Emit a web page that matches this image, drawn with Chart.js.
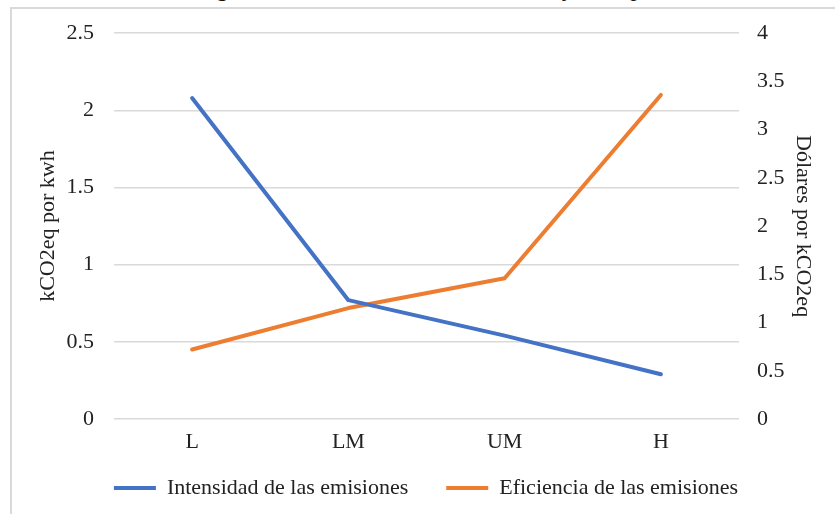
<!DOCTYPE html>
<html lang="es">
<head>
<meta charset="utf-8">
<title>Intensidad y eficiencia de las emisiones</title>
<script src="https://cdn.jsdelivr.net/npm/chart.js@4/dist/chart.umd.min.js"></script>
<style>
  html, body { margin: 0; padding: 0; background: #fff; overflow: hidden; }
  body { width: 835px; height: 514px; position: relative; }
  #caption {
    position: absolute; left: 197px; top: -24px; white-space: nowrap;
    font: italic 24px "Liberation Serif", "Times New Roman", serif; line-height: 24px; color: #111;
  }
  #frame {
    position: absolute; left: 10px; top: 7px; width: 860px; height: 540px;
    border: 2px solid #d9d9d9; box-sizing: border-box;
  }
  #wrap { position: absolute; left: 0; top: 0; width: 835px; height: 514px; }
</style>
</head>
<body>
<div id="caption">Figura 4. Intensidad de las emisiones y su impacto total</div>
<div id="frame"></div>
<div id="wrap"><canvas id="chart" width="835" height="514"></canvas></div>
<script>
// Income groups on the category axis
const categories = ['L', 'LM', 'UM', 'H'];

// kgCO2eq per kWh (left axis)
const intensidad = [2.08, 0.77, 0.54, 0.29];

// Dollars per kgCO2eq (right axis)
const eficiencia = [0.72, 1.15, 1.46, 3.36];

const seriesNames = ['Intensidad de las emisiones', 'Eficiencia de las emisiones'];
const axisTitles = { left: 'kCO2eq por kwh', right: 'Dólares por kCO2eq' };

const BLUE = '#4472C4';
const ORANGE = '#ED7D31';
const TEXT = '#222222';
const SERIF = '"Liberation Serif", "Times New Roman", serif';
const font = { family: SERIF, size: 22 };

// Plain numbers without trailing zeros: 2, 1.5, 1 ...
const plain = v => String(Number(Number(v).toFixed(2)));

// The category labels overlap the legend's top padding; widen the x scale's
// label clip box so they are not cut off.
const unclipCategoryLabels = {
  id: 'unclipCategoryLabels',
  afterLayout(chart) {
    const x = chart.scales.x;
    x.bottom = x.top + 40;
  }
};

new Chart(document.getElementById('chart'), {
  type: 'line',
  data: {
    labels: categories,
    datasets: [
      {
        label: seriesNames[0], data: intensidad, yAxisID: 'y',
        borderColor: BLUE, backgroundColor: BLUE, borderWidth: 4,
        pointRadius: 0, pointStyle: 'line', tension: 0,
        borderCapStyle: 'round', borderJoinStyle: 'round'
      },
      {
        label: seriesNames[1], data: eficiencia, yAxisID: 'y1',
        borderColor: ORANGE, backgroundColor: ORANGE, borderWidth: 4,
        pointRadius: 0, pointStyle: 'line', tension: 0,
        borderCapStyle: 'round', borderJoinStyle: 'round'
      }
    ]
  },
  plugins: [unclipCategoryLabels],
  options: {
    responsive: false,
    animation: false,
    layout: { padding: { top: 28, left: 17, right: 0, bottom: 5 } },
    plugins: {
      tooltip: { enabled: false },
      legend: {
        position: 'bottom',
        labels: {
          color: TEXT, font: font, usePointStyle: true, pointStyleWidth: 42,
          boxHeight: 4, padding: 38
        }
      }
    },
    scales: {
      x: {
        offset: true,
        grid: { display: false },
        border: { display: false },
        ticks: { color: TEXT, font: font, padding: 2, maxRotation: 0 },
        afterFit(scale) { scale.height = 20; }
      },
      y: {
        position: 'left', min: 0, max: 2.5,
        ticks: { stepSize: 0.5, color: TEXT, font: font, padding: 20, callback: plain },
        grid: { color: '#d9d9d9', lineWidth: 1.5, drawTicks: false },
        border: { display: false },
        title: { display: true, text: axisTitles.left, color: TEXT, font: font, padding: { top: 17.8, bottom: 0 } },
        afterFit(scale) { scale.width = 97; }
      },
      y1: {
        position: 'right', min: 0, max: 4,
        ticks: { stepSize: 0.5, color: TEXT, font: font, padding: 18, callback: plain },
        grid: { display: false, drawTicks: false },
        border: { display: false },
        title: { display: true, text: axisTitles.right, color: TEXT, font: font, padding: { top: 18.8, bottom: 0 } },
        afterFit(scale) { scale.width = 96; }
      }
    }
  }
});
</script>
</body>
</html>
